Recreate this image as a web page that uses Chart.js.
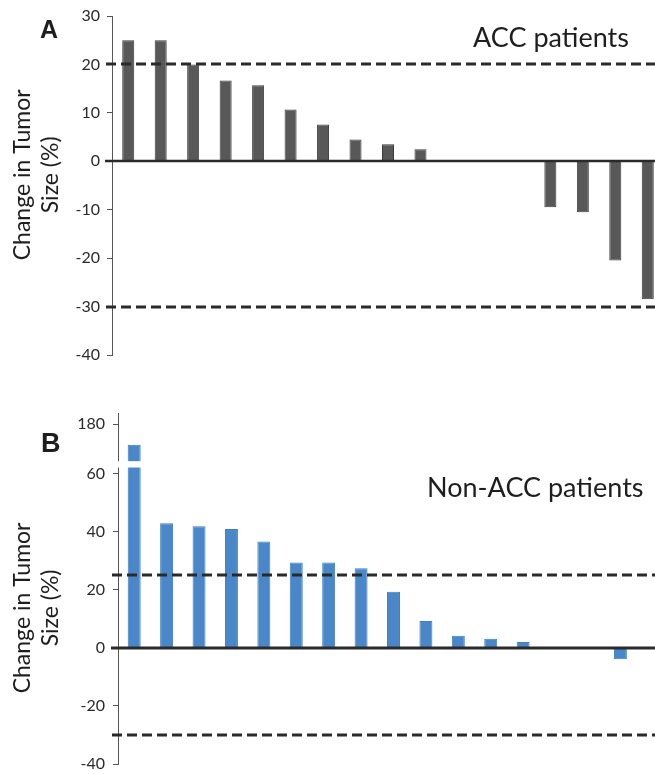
<!DOCTYPE html>
<html>
<head>
<meta charset="utf-8">
<script src="https://cdn.jsdelivr.net/npm/chart.js@4.4.1/dist/chart.umd.min.js"></script>
<style>
html,body{margin:0;padding:0;overflow:hidden;background:#fff;width:655px;height:774px}
.panel{position:absolute;left:0;width:670px;height:387px}
.lbl{position:absolute;line-height:1;color:#1e1e1e;white-space:nowrap}
</style>
</head>
<body>
<div class="panel" style="top:0"><canvas id="accChart" width="670" height="387"></canvas></div>
<div class="panel" style="top:387px"><canvas id="nonAccChart" width="670" height="387"></canvas></div>
<div class="lbl" style="left:40px;top:15px;font:bold 25px 'Liberation Sans'">A</div>
<div class="lbl" style="left:473px;top:20px;font:27px Lato">ACC patients</div>
<div class="lbl" style="left:41px;top:428px;font:bold 27px 'Liberation Sans'">B</div>
<div class="lbl" style="left:427px;top:470px;font:27px Lato">Non-ACC patients</div>
<script>
// panel A - ACC patients
const patientsA = ['1','2','3','4','5','6','7','8','9','10','11','12','13','14','15','16','17'];
const accValues = [25, 25, 20, 16.7, 15.7, 10.7, 7.6, 4.5, 3.5, 2.5, 0, 0, 0, -9.5, -10.5, -20.5, -28.5];
const accRefLines = [20, -30];

// panel B - Non-ACC patients (first bar runs past the axis break)
const patientsB = ['1','2','3','4','5','6','7','8','9','10','11','12','13','14','15','16','17'];
const nonAccValues = [130, 43, 42, 41, 36.7, 29.5, 29.5, 27.5, 19.4, 9.3, 4.2, 3.2, 2.1, 0, 0, -3.9, null];
const nonAccTicks = [-40, -20, 0, 20, 40, 60, 180];
const nonAccRefLines = [25, -30];

const yTitle = ['Change in Tumor', 'Size (%)'];

// compress everything above 60 so 180 sits just under the top of the axis
const brk = v => v > 60 ? 60 + (v - 60) * 17.2 / 120 : v;

const refLines = {
  id: 'refLines',
  afterDatasetsDraw(chart, args, o) {
    const {ctx, chartArea, scales: {y}} = chart;
    ctx.save();
    ctx.strokeStyle = '#2a2a2a';
    ctx.lineWidth = o.zeroWidth;
    const y0 = Math.round(y.getPixelForValue(0));
    ctx.beginPath();
    ctx.moveTo(chartArea.left - 7, y0);
    ctx.lineTo(chart.width, y0);
    ctx.stroke();
    ctx.setLineDash([10, 5]);
    ctx.lineWidth = 3;
    for (const v of o.dashed) {
      const py = Math.round(y.getPixelForValue(v));
      ctx.beginPath();
      ctx.moveTo(chartArea.left - 6, py);
      ctx.lineTo(chart.width, py);
      ctx.stroke();
    }
    if (o.gap) {
      const top = y.getPixelForValue(o.gap[1]);
      const bot = y.getPixelForValue(o.gap[0]);
      ctx.fillStyle = '#fff';
      ctx.fillRect(chartArea.left - 3, top, chartArea.right - chartArea.left + 3, bot - top);
    }
    ctx.restore();
  }
};

const axisTitle = {
  id: 'axisTitle',
  afterDraw(chart, args, o) {
    const {ctx, scales: {y}} = chart;
    ctx.save();
    ctx.translate(o.x, y.getPixelForValue(o.center));
    ctx.rotate(-Math.PI / 2);
    ctx.font = '23px Lato';
    ctx.fillStyle = '#1e1e1e';
    ctx.textAlign = 'center';
    ctx.textBaseline = 'middle';
    o.lines.forEach((t, i) => ctx.fillText(t, 0, i * 28));
    ctx.restore();
  }
};

const tickFont = {family: 'Lato', size: 16};

// fixed axis width, and let layout padding alone decide top/bottom of the plot
const fitAxis = w => s => { s.width = w; s.paddingTop = 0; s.paddingBottom = 0; };

new Chart(document.getElementById('accChart'), {
  type: 'bar',
  data: {
    labels: patientsA,
    datasets: [{
      data: accValues,
      backgroundColor: '#585858',
      borderColor: '#3c3c3c',
      borderWidth: 1,
      categoryPercentage: 1,
      barPercentage: 0.37
    }]
  },
  options: {
    responsive: false,
    animation: false,
    layout: {padding: {top: 16, bottom: 32, right: 6}},
    plugins: {
      legend: {display: false},
      tooltip: {enabled: false},
      refLines: {dashed: accRefLines, zeroWidth: 2.5},
      axisTitle: {lines: yTitle, x: 23, center: -2.8}
    },
    scales: {
      x: {display: false},
      y: {
        min: -40, max: 30,
        afterFit: fitAxis(112),
        ticks: {stepSize: 10, color: '#2a2a2a', font: tickFont, padding: 7},
        grid: {drawOnChartArea: false, tickLength: 5, color: '#555'},
        border: {color: '#555', width: 1}
      }
    }
  },
  plugins: [refLines, axisTitle]
});

new Chart(document.getElementById('nonAccChart'), {
  type: 'bar',
  data: {
    labels: patientsB,
    datasets: [{
      data: nonAccValues.map(v => v == null ? null : brk(v)),
      backgroundColor: '#4a87c8',
      borderColor: '#3f7ec0',
      borderWidth: 1,
      categoryPercentage: 1,
      barPercentage: 0.40
    }]
  },
  options: {
    responsive: false,
    animation: false,
    layout: {padding: {top: 26, bottom: 10, right: 1}},
    plugins: {
      legend: {display: false},
      tooltip: {enabled: false},
      refLines: {dashed: nonAccRefLines, zeroWidth: 3, gap: [62.2, 64.4]},
      axisTitle: {lines: yTitle, x: 23, center: 13.8}
    },
    scales: {
      x: {display: false},
      y: {
        min: -40, max: 81,
        afterFit: fitAxis(118),
        afterBuildTicks: s => { s.ticks = nonAccTicks.map(v => ({value: brk(v)})); },
        ticks: {color: '#2a2a2a', font: tickFont, padding: 8, callback: (v, i) => nonAccTicks[i]},
        grid: {drawOnChartArea: false, tickLength: 5, color: '#555'},
        border: {color: '#555', width: 1}
      }
    }
  },
  plugins: [refLines, axisTitle]
});
</script>
</body>
</html>
